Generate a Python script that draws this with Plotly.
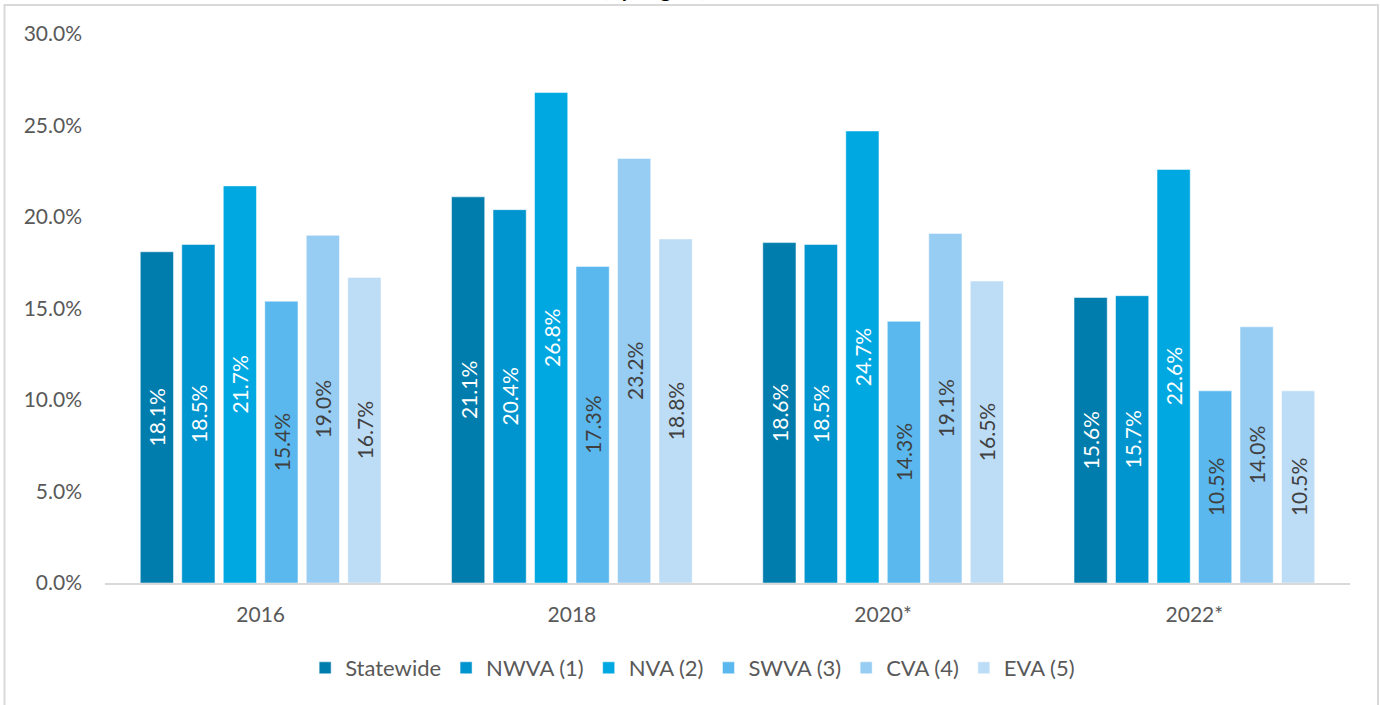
import plotly.graph_objects as go

years = ["2016", "2018", "2020*", "2022*"]
regions = ["Statewide", "NWVA (1)", "NVA (2)", "SWVA (3)", "CVA (4)", "EVA (5)"]
statewide = [18.1, 21.1, 18.6, 15.6]
nwva = [18.5, 20.4, 18.5, 15.7]
nva = [21.7, 26.8, 24.7, 22.6]
swva = [15.4, 17.3, 14.3, 10.5]
cva = [19.0, 23.2, 19.1, 14.0]
eva = [16.7, 18.8, 16.5, 10.5]
series = [statewide, nwva, nva, swva, cva, eva]
colors = ["#007DAC", "#0095CE", "#00A8E2", "#5AB8EE", "#97CCF3", "#BDDCF6"]
text_colors = ["#FFFFFF", "#FFFFFF", "#FFFFFF", "#404040", "#404040", "#404040"]

FONT = "Lato"

fig = go.Figure()
for name, vals, c, tc in zip(regions, series, colors, text_colors):
    fig.add_trace(go.Bar(
        name=name, x=years, y=vals,
        marker=dict(color=c, line=dict(color="#FFFFFF", width=0.5)),
        texttemplate="%{y:.1f}%", textposition="inside",
        insidetextanchor="middle", textangle=-90,
        textfont=dict(family=FONT, size=21, color=tc),
        hoverinfo="skip",
    ))

W, H = 1380, 705
L, R, T, B = 105, 30, 34, 122
pw, ph = W - L - R, H - T - B

def px_x(x):
    return (x - L) / pw

def px_y(y):
    return (H - B - y) / ph

fig.update_layout(
    width=W, height=H,
    margin=dict(l=L, r=R, t=T, b=B),
    paper_bgcolor="white", plot_bgcolor="white",
    barmode="group", bargap=0.2, bargroupgap=0.2,
    font=dict(family=FONT, size=20, color="#595959"),
    showlegend=True,
    legend=dict(orientation="h", x=0.472, xanchor="center", y=px_y(668), yanchor="middle",
                font=dict(family=FONT, size=22, color="#595959"),
                itemwidth=30, tracegroupgap=0, traceorder="normal"),
    xaxis=dict(showgrid=False, showline=True, linecolor="#D9D9D9", linewidth=2,
               ticks="", ticklabelstandoff=12,
               tickfont=dict(family=FONT, size=21, color="#595959")),
    yaxis=dict(range=[0, 30], dtick=5, tickformat=".1f", ticksuffix="%",
               showgrid=False, zeroline=False, showline=False, ticks="",
               ticklabelstandoff=22,
               tickfont=dict(family=FONT, size=21, color="#595959")),
    shapes=[dict(type="rect", xref="paper", yref="paper",
                 x0=px_x(4.5), x1=px_x(1378), y0=px_y(5), y1=px_y(720),
                 line=dict(color="#D9D9D9", width=2), fillcolor="rgba(0,0,0,0)", layer="below")],
    annotations=[dict(text="<b>(by Region)</b>", xref="paper", yref="paper",
                      x=px_x(654), y=px_y(3), xanchor="center", yanchor="bottom",
                      showarrow=False, font=dict(family=FONT, size=21, color="#000000"))],
)

fig.write_html("out.html")
